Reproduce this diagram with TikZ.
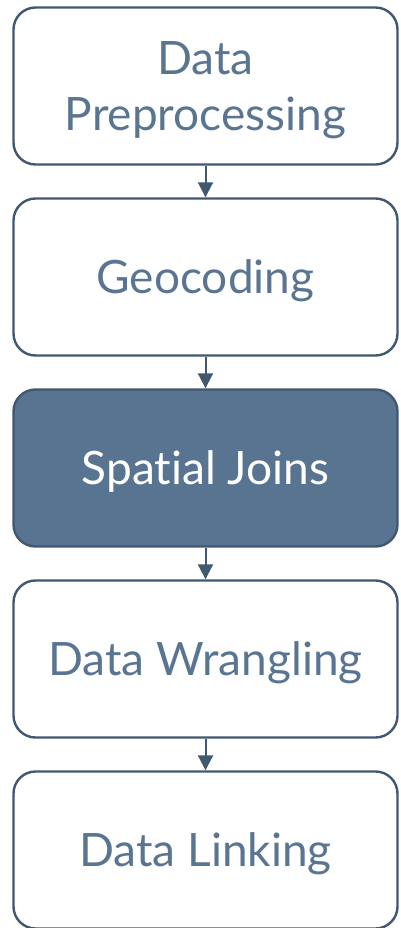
\documentclass[tikz,border=0pt]{standalone}
\usepackage{fontspec}
\setmainfont{Lato}[Ligatures={NoCommon,NoContextual}]
\usetikzlibrary{positioning, arrows.meta}
\definecolor{edgeblue}{HTML}{415870}
\definecolor{textblue}{HTML}{5A7591}
\definecolor{fillblue}{HTML}{587491}
\tikzstyle{stage} = [
    rectangle,
    rounded corners=22pt,
    minimum width=384pt,
    minimum height=157pt,
    draw=edgeblue,
    line width=2.4pt,
    fill=white,
    text=textblue,
    text depth=0pt,
    align=center,
    font=\fontsize{46}{56}\selectfont
]
\tikzstyle{current} = [fill=fillblue, text=white]
\tikzstyle{arrow} = [draw=edgeblue, line width=2pt, -{Triangle[width=15pt,length=15pt]}]

\begin{document}
\begin{tikzpicture}[x=1pt, y=1pt, node distance=31.6pt]
\useasboundingbox (0,0) rectangle (400,-928);

\node (prep) [stage] at (205.5,-86) {Data\\Preprocessing};

\node (geo) [stage, below=of prep] {Geocoding};

\node (joins) [stage, current, below=of geo] {Spatial Joins};

\node (wrangle) [stage, below=of joins] {Data Wrangling};

\node (link) [stage, below=of wrangle] {Data Linking};

\draw [arrow] (prep) -- (geo);
\draw [arrow] (geo) -- (joins);
\draw [arrow] (joins) -- (wrangle);
\draw [arrow] (wrangle) -- (link);

\end{tikzpicture}
\end{document}
